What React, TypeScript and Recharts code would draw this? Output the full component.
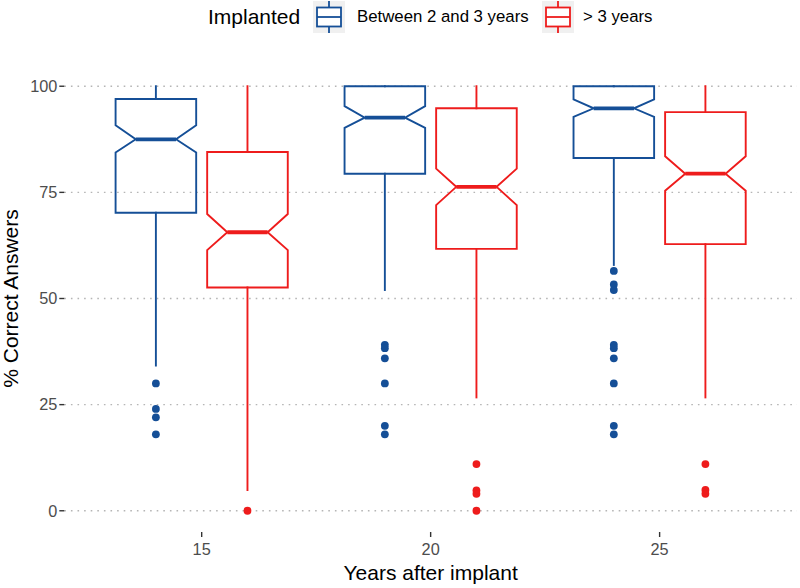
import React from 'react';
import { ComposedChart, Scatter, XAxis, YAxis, CartesianGrid } from 'recharts';

// x positions of the groups and the y ticks
const years = [15, 20, 25];
const yTicks = [0, 25, 50, 75, 100];

// "Between 2 and 3 years"
const lowA = [34.2, 52.0, 57.9];
const q1A = [70.2, 79.4, 83.1];
const notchLowA = [84.4, 90.2, 92.8];
const medianA = [87.5, 92.6, 94.8];
const notchHighA = [90.8, 95.3, 96.9];
const q3A = [97.0, 100, 100];
const highA = [100, 100, 100];
const outliersA = [
    [30, 24, 22, 18],
    [39.1, 38.3, 35.9, 30, 20, 18],
    [56.5, 53.3, 52.0, 39.1, 38.3, 35.9, 30, 20, 18],
];

// "> 3 years"
const lowB = [4.9, 26.7, 26.7];
const q1B = [52.6, 61.7, 62.8];
const notchLowB = [61.4, 72.0, 75.4];
const medianB = [65.6, 76.3, 79.4];
const notchHighB = [69.9, 80.6, 83.5];
const q3B = [84.5, 94.8, 93.9];
const highB = [100, 100, 100];
const outliersB = [
    [0],
    [11, 4.8, 4.0, 0],
    [11, 4.9, 4.0],
];

const BLUE = '#154f97';
const RED = '#ee1c1c';
const DODGE = 1;
const HALF = 0.88;

type Pt = { x: number; y: number };

const series = [
    { name: 'Between 2 and 3 years', color: BLUE, shift: -DODGE, low: lowA, q1: q1A, nl: notchLowA, med: medianA, nu: notchHighA, q3: q3A, high: highA, out: outliersA },
    { name: '> 3 years', color: RED, shift: DODGE, low: lowB, q1: q1B, nl: notchLowB, med: medianB, nu: notchHighB, q3: q3B, high: highB, out: outliersB },
];

const outline = (x: number, q1: number, nl: number, med: number, nu: number, q3: number): Pt[] => [
    { x: x - HALF, y: q3 },
    { x: x - HALF, y: nu },
    { x: x - HALF / 2, y: med },
    { x: x - HALF, y: nl },
    { x: x - HALF, y: q1 },
    { x: x + HALF, y: q1 },
    { x: x + HALF, y: nl },
    { x: x + HALF / 2, y: med },
    { x: x + HALF, y: nu },
    { x: x + HALF, y: q3 },
    { x: x - HALF, y: q3 },
];

const NoDot = () => <g />;

const LegendKey: React.FC<{ color: string }> = ({ color }) => (
    <svg width={32} height={32}>
        <rect x={0} y={0} width={32} height={32} fill="#f0f0f0" />
        <line x1={16} x2={16} y1={0} y2={32} stroke={color} strokeWidth={1.8} />
        <rect x={4} y={6.5} width={24} height={19} fill="#fff" stroke={color} strokeWidth={1.8} />
        <line x1={4} x2={28} y1={16} y2={16} stroke={color} strokeWidth={1.8} />
    </svg>
);

const App = () => {
    const lineLayer: React.ReactNode[] = [];
    const dotLayer: React.ReactNode[] = [];
    series.forEach((s) => {
        years.forEach((yr, i) => {
            const x = yr + s.shift;
            const line = { stroke: s.color, strokeWidth: 1.9, strokeLinecap: 'square' as const };
            lineLayer.push(
                <Scatter key={`${s.name}-up-${i}`} data={[{ x, y: s.q3[i] }, { x, y: s.high[i] }]} line={line} lineType="joint" shape={NoDot} isAnimationActive={false} />,
                <Scatter key={`${s.name}-lo-${i}`} data={[{ x, y: s.q1[i] }, { x, y: s.low[i] }]} line={line} lineType="joint" shape={NoDot} isAnimationActive={false} />,
                <Scatter key={`${s.name}-box-${i}`} data={outline(x, s.q1[i], s.nl[i], s.med[i], s.nu[i], s.q3[i])} line={line} lineType="joint" shape={NoDot} isAnimationActive={false} />,
                <Scatter key={`${s.name}-med-${i}`} data={[{ x: x - HALF / 2, y: s.med[i] }, { x: x + HALF / 2, y: s.med[i] }]} line={{ stroke: s.color, strokeWidth: 3.8 }} lineType="joint" shape={NoDot} isAnimationActive={false} />
            );
            dotLayer.push(
                <Scatter
                    key={`${s.name}-out-${i}`}
                    data={s.out[i].map((v) => ({ x, y: v }))}
                    shape={(p: any) => <circle cx={p.cx} cy={p.cy} r={3.9} fill={s.color} />}
                    isAnimationActive={false}
                />
            );
        });
    });

    return (
        <div style={{ position: 'relative', width: 800, height: 588, fontFamily: "'Liberation Sans', Arial, sans-serif" }}>
            <style>{'body{margin:0}'}</style>
            <ComposedChart width={800} height={588} margin={{ top: 65, right: 3, bottom: 0, left: 0 }}>
                <CartesianGrid vertical={false} horizontalValues={yTicks} stroke="#b5b5b5" strokeWidth={1.4} strokeDasharray="1.6 5" />
                <XAxis
                    type="number"
                    dataKey="x"
                    domain={[12, 28]}
                    ticks={years}
                    allowDataOverflow
                    height={56}
                    axisLine={false}
                    tickSize={5}
                    tickMargin={6}
                    tickLine={{ stroke: '#333', strokeWidth: 1.4 }}
                    tick={{ fontSize: 16.3, fill: '#4d4d4d' }}
                    label={{ value: 'Years after implant', position: 'insideBottom', offset: 8, fontSize: 21, fill: '#000' }}
                />
                <YAxis
                    type="number"
                    dataKey="y"
                    domain={[-5, 105]}
                    ticks={yTicks}
                    allowDataOverflow
                    width={64.3}
                    axisLine={false}
                    tickSize={5}
                    tickMargin={2}
                    tickLine={{ stroke: '#333', strokeWidth: 1.4 }}
                    tick={{ fontSize: 16.3, fill: '#4d4d4d' }}
                    label={{ value: '% Correct Answers', angle: -90, position: 'insideLeft', offset: 11, fontSize: 21, fill: '#000', style: { textAnchor: 'middle' } }}
                />
                {lineLayer}
                {dotLayer}
            </ComposedChart>
            <div style={{ position: 'absolute', top: 1, left: 0, height: 32, width: 800 }}>
                <span style={{ position: 'absolute', left: 208, top: 3, fontSize: 21, lineHeight: '26px', whiteSpace: 'nowrap' }}>Implanted</span>
                <div style={{ position: 'absolute', left: 313, top: 0 }}><LegendKey color={BLUE} /></div>
                <span style={{ position: 'absolute', left: 357, top: 5, fontSize: 16.8, lineHeight: '22px', whiteSpace: 'nowrap' }}>{series[0].name}</span>
                <div style={{ position: 'absolute', left: 542, top: 0 }}><LegendKey color={RED} /></div>
                <span style={{ position: 'absolute', left: 583, top: 5, fontSize: 16.8, lineHeight: '22px', whiteSpace: 'nowrap' }}>{series[1].name}</span>
            </div>
        </div>
    );
};

export default App;
